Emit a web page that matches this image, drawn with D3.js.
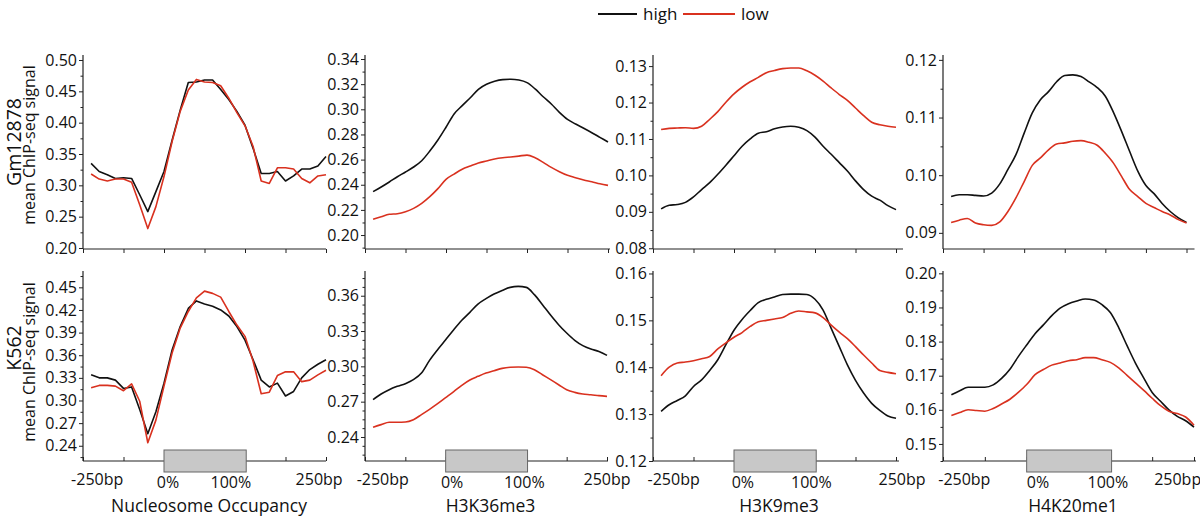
<!DOCTYPE html>
<html><head><meta charset="utf-8">
<script src="https://cdn.jsdelivr.net/npm/d3@7"></script>
<style>
html,body{margin:0;padding:0;background:#fff;}
svg text{font-family:"Open Sans","DejaVu Sans",sans-serif;fill:#111;}
</style></head>
<body><svg id="c" width="1200" height="516"></svg>
<script>
// ---------- data ----------
const cellLines = ["Gm12878", "K562"];
const marks = ["Nucleosome Occupancy", "H3K36me3", "H3K9me3", "H4K20me1"];
const seriesNames = ["high", "low"];
const xTickLabels = ["-250bp", "0%", "100%", "250bp"];
const yAxisTitle = "mean ChIP-seq signal";

// 30 bins per profile (flank - nucleosome - flank)
const gmNucHigh = [0.335,0.322,0.317,0.311,0.312,0.311,0.285,0.258,0.290,0.322,0.372,0.420,0.464,0.465,0.468,0.468,0.453,0.437,0.418,0.396,0.359,0.319,0.319,0.322,0.307,0.315,0.326,0.326,0.331,0.346];
const gmNucLow  = [0.318,0.310,0.307,0.310,0.310,0.305,0.269,0.231,0.266,0.314,0.370,0.418,0.452,0.469,0.465,0.464,0.459,0.439,0.416,0.395,0.362,0.307,0.303,0.328,0.328,0.326,0.311,0.304,0.315,0.317];
const gmK36High = [0.2345,0.2382,0.2422,0.2464,0.2501,0.2541,0.2591,0.2668,0.2756,0.2857,0.2963,0.3029,0.3092,0.3159,0.3199,0.3223,0.3236,0.3239,0.3233,0.3212,0.3162,0.3100,0.3042,0.2976,0.2920,0.2883,0.2849,0.2814,0.2777,0.2740];
const gmK36Low  = [0.2125,0.2146,0.2165,0.2170,0.2186,0.2212,0.2252,0.2305,0.2369,0.2443,0.2485,0.2523,0.2549,0.2573,0.2589,0.2605,0.2615,0.2621,0.2628,0.2636,0.2615,0.2578,0.2538,0.2504,0.2475,0.2456,0.2438,0.2424,0.2408,0.2395];
const gmK9High  = [0.0908,0.0918,0.0920,0.0926,0.0941,0.0961,0.0980,0.1003,0.1028,0.1054,0.1080,0.1100,0.1116,0.1120,0.1128,0.1133,0.1135,0.1132,0.1123,0.1105,0.1080,0.1058,0.1035,0.1012,0.0985,0.0961,0.0943,0.0932,0.0917,0.0906];
const gmK9Low   = [0.1126,0.1129,0.1130,0.1131,0.1129,0.1135,0.1154,0.1175,0.1201,0.1224,0.1242,0.1257,0.1269,0.1282,0.1288,0.1293,0.1295,0.1295,0.1287,0.1275,0.1259,0.1240,0.1222,0.1206,0.1185,0.1164,0.1146,0.1139,0.1135,0.1132];
const gmK20High = [0.0963,0.0966,0.0966,0.0965,0.0964,0.0969,0.0985,0.1010,0.1036,0.1073,0.1108,0.1131,0.1145,0.1162,0.1173,0.1174,0.1171,0.1162,0.1152,0.1137,0.1109,0.1076,0.1041,0.1007,0.0982,0.0968,0.0951,0.0937,0.0926,0.0918];
const gmK20Low  = [0.0918,0.0922,0.0925,0.0917,0.0914,0.0913,0.0919,0.0937,0.0961,0.0989,0.1017,0.1030,0.1044,0.1054,0.1056,0.1059,0.1060,0.1057,0.1052,0.1038,0.1021,0.0998,0.0975,0.0963,0.0951,0.0944,0.0937,0.0931,0.0923,0.0917];

const kNucHigh = [0.334,0.330,0.330,0.327,0.316,0.318,0.288,0.256,0.285,0.323,0.367,0.398,0.422,0.432,0.428,0.425,0.420,0.412,0.398,0.380,0.354,0.327,0.318,0.323,0.306,0.312,0.330,0.341,0.348,0.354];
const kNucLow  = [0.317,0.320,0.320,0.319,0.313,0.322,0.299,0.244,0.274,0.319,0.363,0.396,0.418,0.436,0.445,0.442,0.437,0.418,0.400,0.385,0.352,0.309,0.311,0.333,0.338,0.338,0.325,0.327,0.334,0.340];
const kK36High = [0.2717,0.2765,0.2802,0.2830,0.2853,0.2887,0.2943,0.3051,0.3142,0.3226,0.3311,0.3391,0.3459,0.3529,0.3575,0.3614,0.3645,0.3671,0.3679,0.3671,0.3609,0.3524,0.3436,0.3354,0.3283,0.3221,0.3176,0.3147,0.3127,0.3093];
const kK36Low  = [0.2482,0.2505,0.2525,0.2525,0.2527,0.2547,0.2590,0.2635,0.2683,0.2734,0.2785,0.2839,0.2884,0.2915,0.2943,0.2963,0.2983,0.2992,0.2994,0.2992,0.2972,0.2929,0.2887,0.2844,0.2802,0.2779,0.2765,0.2759,0.2751,0.2745];
const kK9High  = [0.1306,0.1320,0.1329,0.1339,0.1359,0.1373,0.1393,0.1416,0.1448,0.1479,0.1502,0.1521,0.1538,0.1545,0.1550,0.1555,0.1556,0.1556,0.1555,0.1545,0.1522,0.1483,0.1444,0.1405,0.1372,0.1345,0.1323,0.1308,0.1296,0.1291];
const kK9Low   = [0.1382,0.1400,0.1409,0.1411,0.1414,0.1418,0.1423,0.1439,0.1452,0.1464,0.1474,0.1487,0.1497,0.1500,0.1503,0.1506,0.1515,0.1520,0.1518,0.1516,0.1506,0.1490,0.1475,0.1461,0.1444,0.1426,0.1409,0.1393,0.1389,0.1386];
const kK20High = [0.1644,0.1656,0.1666,0.1666,0.1666,0.1673,0.1692,0.1719,0.1756,0.1790,0.1823,0.1849,0.1876,0.1898,0.1911,0.1919,0.1925,0.1922,0.1908,0.1885,0.1841,0.1788,0.1737,0.1693,0.1651,0.1625,0.1600,0.1581,0.1568,0.1549];
const kK20Low  = [0.1583,0.1592,0.1600,0.1598,0.1596,0.1604,0.1617,0.1631,0.1651,0.1674,0.1703,0.1718,0.1731,0.1737,0.1744,0.1747,0.1753,0.1753,0.1747,0.1739,0.1723,0.1701,0.1679,0.1657,0.1634,0.1612,0.1596,0.1589,0.1579,0.1555];

// major y ticks per panel
const gmNucTicks = [0.20,0.25,0.30,0.35,0.40,0.45,0.50];
const gmK36Ticks = [0.20,0.22,0.24,0.26,0.28,0.30,0.32,0.34];
const gmK9Ticks  = [0.08,0.09,0.10,0.11,0.12,0.13];
const gmK20Ticks = [0.09,0.10,0.11,0.12];
const kNucTicks  = [0.24,0.27,0.30,0.33,0.36,0.39,0.42,0.45];
const kK36Ticks  = [0.24,0.27,0.30,0.33,0.36];
const kK9Ticks   = [0.12,0.13,0.14,0.15,0.16];
const kK20Ticks  = [0.15,0.16,0.17,0.18,0.19,0.20];

// ---------- layout ----------
const colors = {high: "#111111", low: "#d9311f"};
const colLeft = [83, 365, 653, 943];
const rows = [
  {axisY: 249, top: 57, label: cellLines[0], labelY: 142, subY: 145, width: [243,243,243,243.5], ext: [0,2,7,8]},
  {axisY: 461, top: 273, label: cellLines[1], labelY: 348, subY: 362, width: [243,242,243,251], ext: [0,1,3,2]}
];
const panels = [
  [ {high: gmNucHigh, low: gmNucLow, ticks: gmNucTicks, dom: [0.1984,0.5048], minor: 0.025, curve: "lin"},
    {high: gmK36High, low: gmK36Low, ticks: gmK36Ticks, dom: [0.1889,0.3416], minor: 0.01},
    {high: gmK9High,  low: gmK9Low,  ticks: gmK9Ticks,  dom: [0.0798,0.1325], minor: 0.005},
    {high: gmK20High, low: gmK20Low, ticks: gmK20Ticks, dom: [0.0872,0.1205], minor: 0.005} ],
  [ {high: kNucHigh, low: kNucLow, ticks: kNucTicks, dom: [0.2198,0.469], minor: 0.015, curve: "lin"},
    {high: kK36High, low: kK36Low, ticks: kK36Ticks, dom: [0.2196,0.3793], minor: 0.0075},
    {high: kK9High,  low: kK9Low,  ticks: kK9Ticks,  dom: [0.12,0.1601], minor: 0.005},
    {high: kK20High, low: kK20Low, ticks: kK20Ticks, dom: [0.145,0.2001], minor: 0.005} ]
];
// positions in tick units (axis spans -3..3)
const binStart = -2.8, binStep = 0.2;
const xLabelPos = [
  [-2.65, -0.90, 0.65, 2.83],
  [-2.56, -0.84, 0.95, 3.00],
  [-2.49, -0.78, 0.91, 3.15],
  [-2.49, -0.73, 0.94, 2.61]
];
const boxRange = [-1.0, 1.03];

const svg = d3.select("#c");

rows.forEach((row, r) => {
  panels[r].forEach((p, c) => {
    const left = colLeft[c], w = row.width[c];
    const x = d3.scaleLinear().domain([-3, 3]).range([left, left + w]);
    const y = d3.scaleLinear().domain(p.dom).range([row.axisY, row.top]);
    const g = svg.append("g");

    // y axis (major)
    const yAxis = d3.axisLeft(y).tickValues(p.ticks).tickFormat(d3.format(".2f")).tickSize(4).tickPadding(2);
    const ga = g.append("g").attr("transform", `translate(${left},0)`).call(yAxis);
    ga.select(".domain").remove();
    ga.selectAll("line").attr("stroke", "#222");
    ga.selectAll("text").attr("font-size", 16).attr("fill", "#111").style("font-family", '"Open Sans", sans-serif');
    // minor y ticks
    const minors = [];
    const start = Math.ceil((p.dom[0] - p.ticks[0]) / p.minor - 1e-6);
    for (let k = start; ; k++) {
      const v = p.ticks[0] + k * p.minor;
      if (v > p.dom[1] + 1e-9) break;
      if (v < p.dom[0] - 1e-9) continue;
      if (p.ticks.some(t => Math.abs(t - v) < 1e-6)) continue;
      minors.push(v);
    }
    const gm = g.append("g").attr("transform", `translate(${left},0)`)
      .call(d3.axisLeft(y).tickValues(minors).tickFormat("").tickSize(2.5));
    gm.select(".domain").remove();
    gm.selectAll("line").attr("stroke", "#222");
    // y axis line
    g.append("line").attr("x1", left).attr("x2", left).attr("y1", row.top - 2).attr("y2", row.axisY)
      .attr("stroke", "#222").attr("stroke-width", 1.2);

    // x axis
    const gx = g.append("g").attr("transform", `translate(0,${row.axisY})`)
      .call(d3.axisBottom(x).tickValues(d3.range(-3, 4)).tickFormat("").tickSize(r === 0 ? 4 : -4));
    gx.select(".domain").remove();
    gx.selectAll("line").attr("stroke", "#222");
    g.append("line").attr("x1", left).attr("x2", left + w + row.ext[c]).attr("y1", row.axisY).attr("y2", row.axisY)
      .attr("stroke", "#222").attr("stroke-width", 1.2);

    // lines
    const line = d3.line()
      .x((d, i) => x(binStart + i * binStep))
      .y(d => y(d))
      .curve(p.curve === "lin" ? d3.curveLinear : d3.curveMonotoneX);
    seriesNames.forEach(s => {
      g.append("path").datum(p[s]).attr("d", line).attr("fill", "none")
        .attr("stroke", colors[s]).attr("stroke-width", 1.6).attr("stroke-linejoin", "round");
    });

    if (r === 1) {
      // nucleosome box
      g.append("rect").attr("x", x(boxRange[0])).attr("width", x(boxRange[1]) - x(boxRange[0]))
        .attr("y", row.axisY - 11).attr("height", 22)
        .attr("fill", "#c8c8c8").attr("stroke", "#666").attr("stroke-width", 1);
      // x labels
      xTickLabels.forEach((t, k) => {
        g.append("text").attr("x", x(xLabelPos[c][k])).attr("y", (k === 1 || k === 2) ? 488 : 485)
          .attr("text-anchor", "middle").attr("font-size", 16).text(t);
      });
      g.append("text").attr("x", left + w / 2 + 4.5).attr("y", 511.5)
        .attr("text-anchor", "middle").attr("font-size", 17.5).text(marks[c]);
    }
  });
  // row labels
  svg.append("text").attr("transform", `translate(21,${row.labelY}) rotate(-90)`)
    .attr("text-anchor", "middle").attr("font-size", 19.5).text(row.label);
  svg.append("text").attr("transform", `translate(35,${row.subY}) rotate(-90)`)
    .attr("text-anchor", "middle").attr("font-size", 16).text(yAxisTitle);
});

// legend
const lg = svg.append("g");
const legendX = [598, 683];
const legendLen = [39, 52];
seriesNames.forEach((s, i) => {
  lg.append("line").attr("x1", legendX[i]).attr("x2", legendX[i] + legendLen[i]).attr("y1", 14).attr("y2", 14)
    .attr("stroke", colors[s]).attr("stroke-width", 1.8);
  lg.append("text").attr("x", legendX[i] + legendLen[i] + 6).attr("y", 20).attr("font-size", 17).text(s);
});
</script></body></html>
